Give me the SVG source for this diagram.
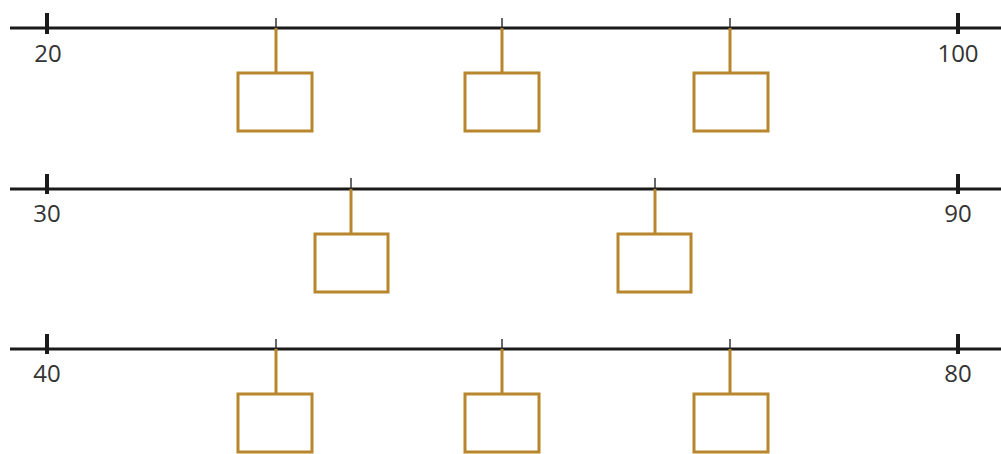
<svg xmlns="http://www.w3.org/2000/svg" width="1001" height="454" viewBox="0 0 1001 454">
<style>
.axis{stroke:#1a1a1a;stroke-width:3;fill:none}
.tick{stroke:#1a1a1a;stroke-width:4}
.small{stroke:#333;stroke-width:1.5}
.hang{stroke:#B8862D;stroke-width:3}
.box{fill:#fff;stroke:#B8862D;stroke-width:3}
.lbl{font-family:"Open Sans","Liberation Sans",sans-serif;font-size:24px;fill:#333;text-anchor:middle}
</style>
<rect width="1001" height="454" fill="#fff"/>
<g id="connectors">
<line class="axis" x1="10" y1="28" x2="1001" y2="28"/>
<line class="tick" x1="47" y1="13" x2="47" y2="34"/>
<line class="tick" x1="958" y1="13" x2="958" y2="34"/>
<line class="small" x1="276" y1="18" x2="276" y2="28"/>
<line class="small" x1="502" y1="18" x2="502" y2="28"/>
<line class="small" x1="730" y1="18" x2="730" y2="28"/>
<line class="hang" x1="276" y1="28" x2="276" y2="73"/>
<line class="hang" x1="502" y1="28" x2="502" y2="73"/>
<line class="hang" x1="730" y1="28" x2="730" y2="73"/>

<line class="axis" x1="10" y1="189" x2="1001" y2="189"/>
<line class="tick" x1="47" y1="174" x2="47" y2="194"/>
<line class="tick" x1="958" y1="174" x2="958" y2="194"/>
<line class="small" x1="351" y1="178" x2="351" y2="189"/>
<line class="small" x1="655" y1="178" x2="655" y2="189"/>
<line class="hang" x1="351" y1="189" x2="351" y2="234"/>
<line class="hang" x1="655" y1="189" x2="655" y2="234"/>

<line class="axis" x1="10" y1="349" x2="1001" y2="349"/>
<line class="tick" x1="47" y1="334" x2="47" y2="354"/>
<line class="tick" x1="958" y1="334" x2="958" y2="354"/>
<line class="small" x1="276" y1="339" x2="276" y2="349"/>
<line class="small" x1="502" y1="339" x2="502" y2="349"/>
<line class="small" x1="730" y1="339" x2="730" y2="349"/>
<line class="hang" x1="276" y1="349" x2="276" y2="394"/>
<line class="hang" x1="502" y1="349" x2="502" y2="394"/>
<line class="hang" x1="730" y1="349" x2="730" y2="394"/>
</g>
<g id="labels">
<text class="lbl" x="48" y="62">20</text>
<text class="lbl" x="958" y="62">100</text>
<text class="lbl" x="47" y="222">30</text>
<text class="lbl" x="958" y="222">90</text>
<text class="lbl" x="47" y="382">40</text>
<text class="lbl" x="958" y="382">80</text>
</g>
<g id="box1"><rect class="box" x="238" y="73" width="74" height="58"/></g>
<g id="box2"><rect class="box" x="465" y="73" width="74" height="58"/></g>
<g id="box3"><rect class="box" x="694" y="73" width="74" height="58"/></g>
<g id="box4"><rect class="box" x="315" y="234" width="73" height="58"/></g>
<g id="box5"><rect class="box" x="618" y="234" width="73" height="58"/></g>
<g id="box6"><rect class="box" x="238" y="394" width="74" height="58"/></g>
<g id="box7"><rect class="box" x="465" y="394" width="74" height="58"/></g>
<g id="box8"><rect class="box" x="694" y="394" width="74" height="58"/></g>
</svg>
